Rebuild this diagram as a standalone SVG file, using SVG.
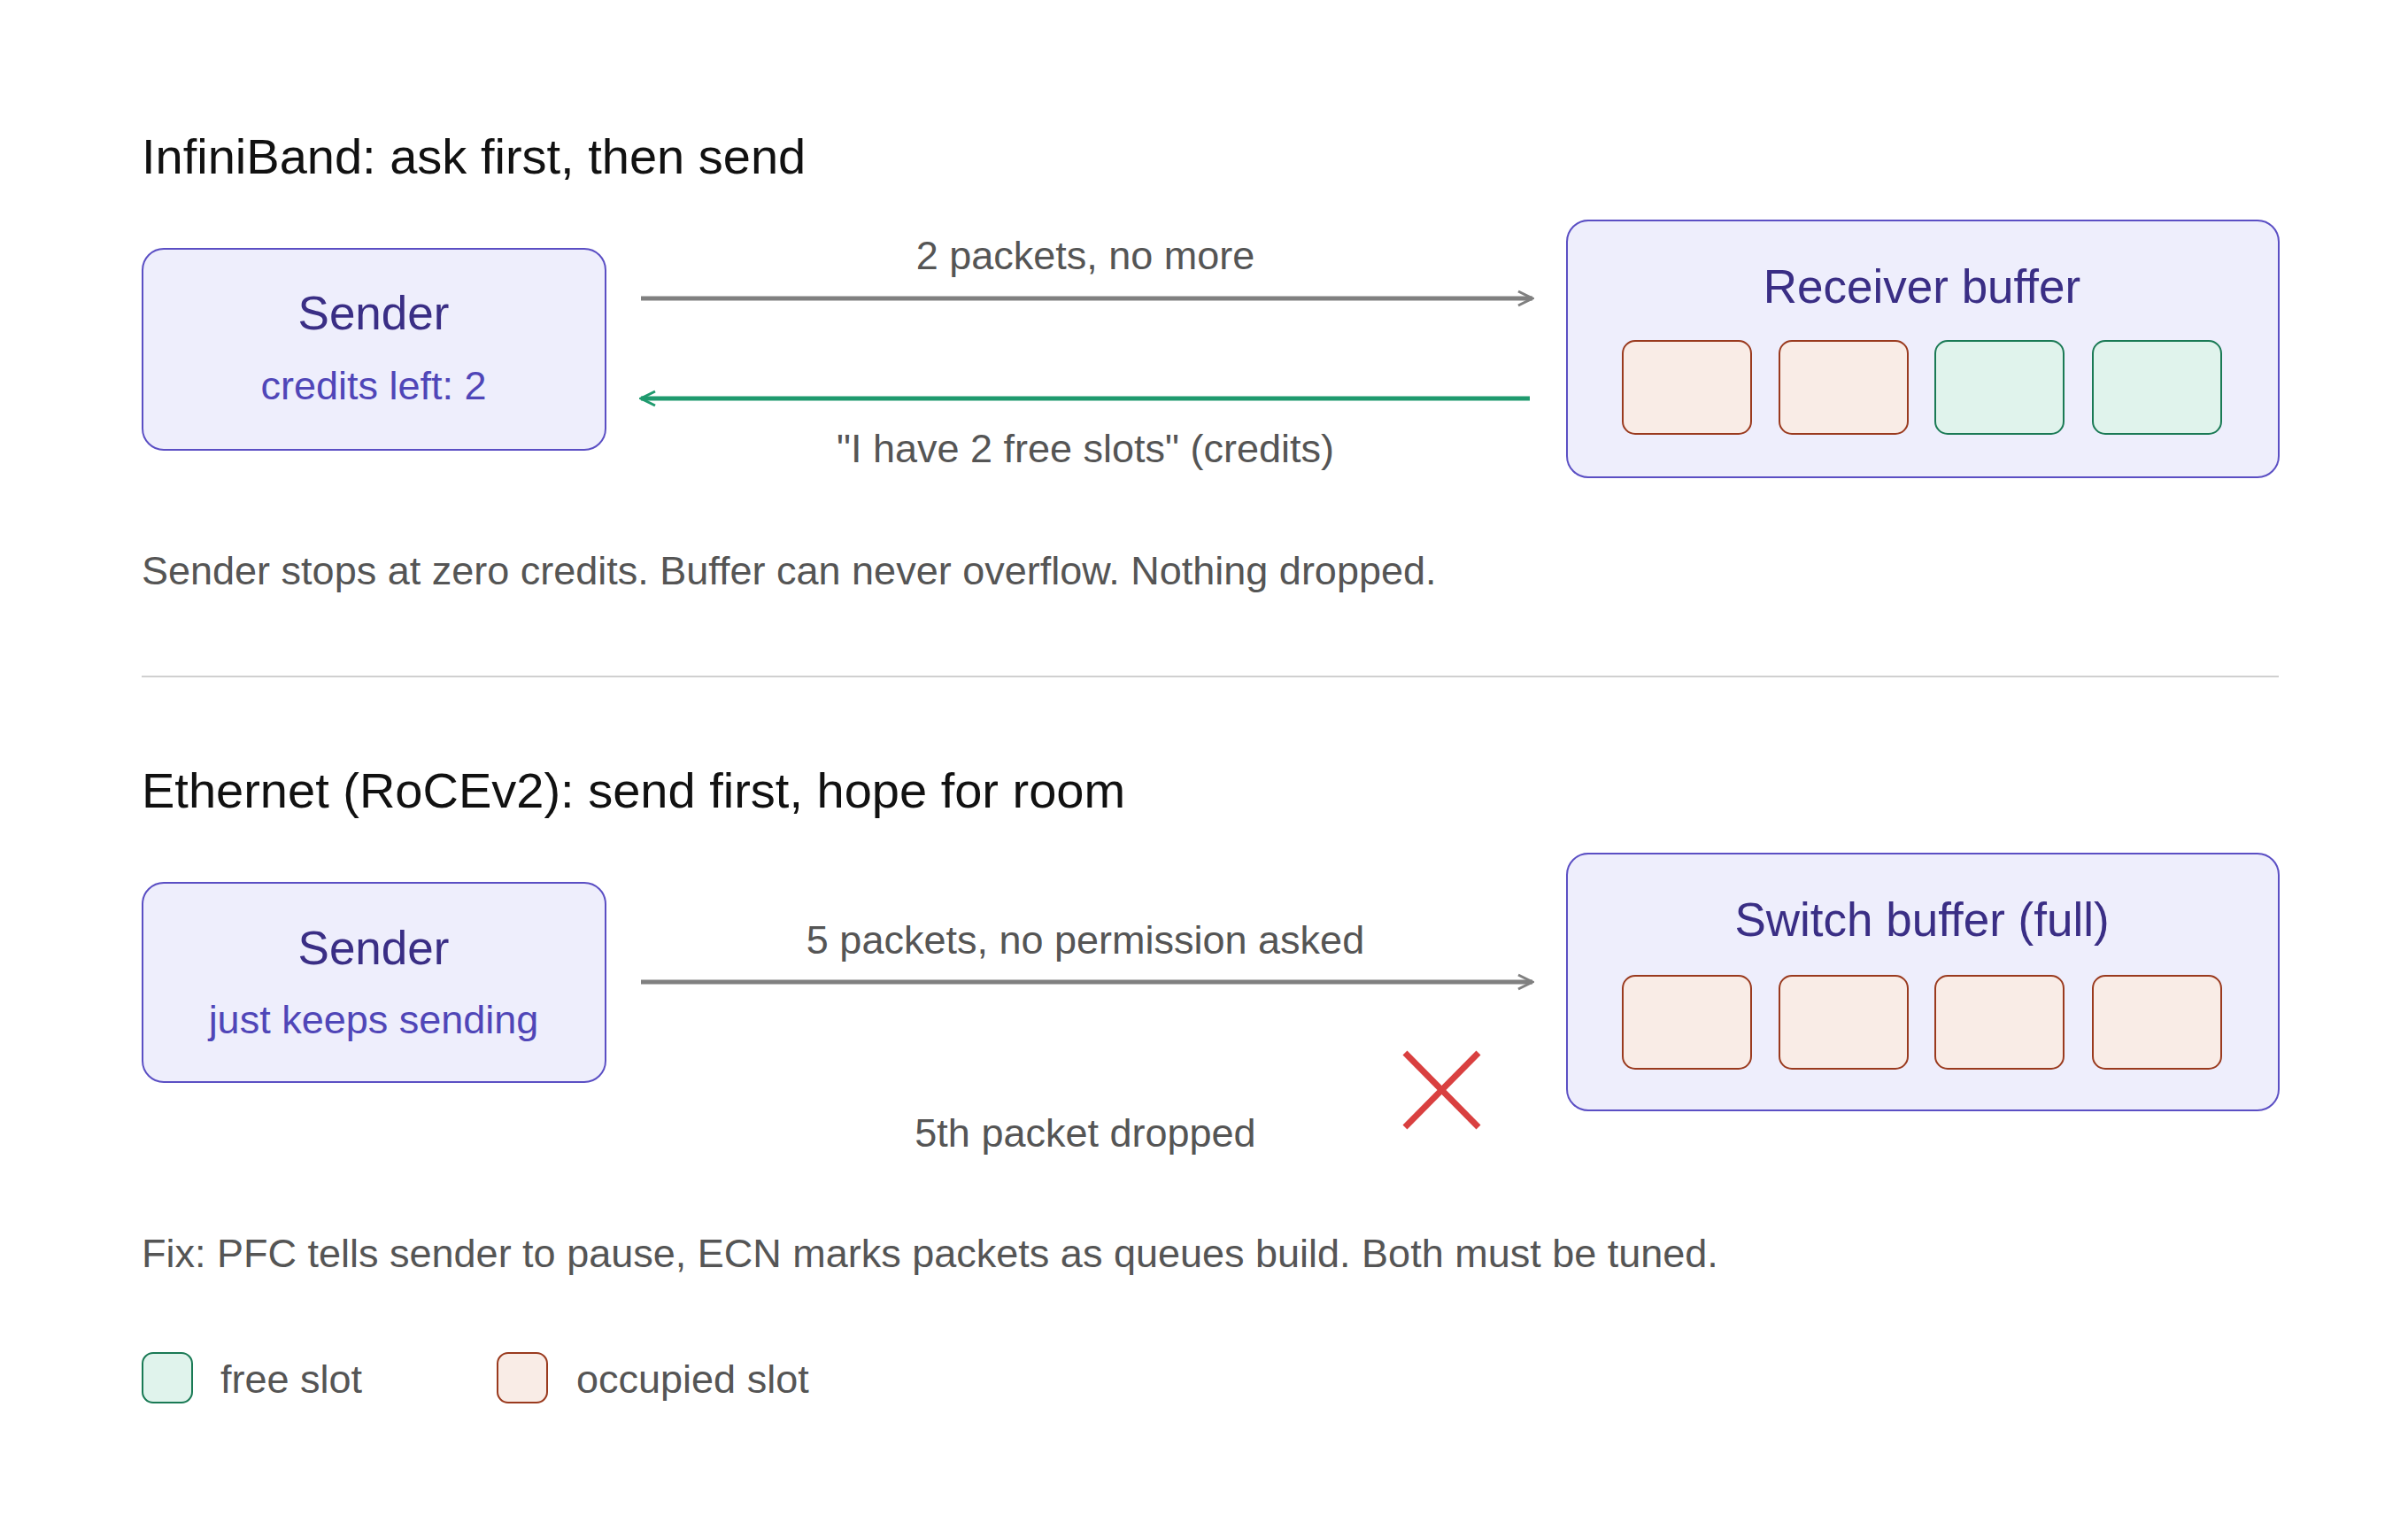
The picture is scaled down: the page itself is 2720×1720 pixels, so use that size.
<svg xmlns="http://www.w3.org/2000/svg" width="2720" height="1720" viewBox="0 0 2720 1720">
<style>
text{font-family:"Liberation Sans",Arial,sans-serif}
.h{font-size:56px;fill:#111}
.t{font-size:45px;fill:#555}
.nt{font-size:53px;fill:#3a2e85;text-anchor:middle}
.ns{font-size:45px;fill:#5046b8;text-anchor:middle}
.box{fill:#eeeefc;stroke:#5b4fc4;stroke-width:2}
.occ{fill:#f9ece6;stroke:#9a3a1e;stroke-width:2}
.free{fill:#e0f3ec;stroke:#1a7a55;stroke-width:2}
.c{text-anchor:middle}
</style>
<defs>
<marker id="ag" viewBox="0 0 20 20" refX="18" refY="10" markerWidth="20" markerHeight="20" markerUnits="userSpaceOnUse" orient="auto"><path d="M2,2 L18,10 L2,18" fill="none" stroke="#808080" stroke-width="3"/></marker>
<marker id="agr" viewBox="0 0 20 20" refX="18" refY="10" markerWidth="20" markerHeight="20" markerUnits="userSpaceOnUse" orient="auto"><path d="M2,2 L18,10 L2,18" fill="none" stroke="#1f9a6e" stroke-width="3"/></marker>
</defs>
<rect width="2720" height="1720" fill="#fff"/>
<text class="h" x="160" y="196">InfiniBand: ask first, then send</text>
<g id="sender1"><rect class="box" x="161" y="281" width="523" height="227" rx="24"/><text class="nt" x="422" y="372">Sender</text><text class="ns" x="422" y="451">credits left: 2</text></g>
<g id="receiver"><rect class="box" x="1770" y="249" width="804" height="290" rx="24"/><text class="nt" x="2171" y="342">Receiver buffer</text>
<rect class="occ" x="1833" y="385" width="145" height="105" rx="14"/><rect class="occ" x="2010" y="385" width="145" height="105" rx="14"/><rect class="free" x="2186" y="385" width="145" height="105" rx="14"/><rect class="free" x="2364" y="385" width="145" height="105" rx="14"/></g>
<g id="connectors">
<line x1="724" y1="337" x2="1731" y2="337" stroke="#808080" stroke-width="5" marker-end="url(#ag)"/>
<line x1="1728" y1="450" x2="724" y2="450" stroke="#1f9a6e" stroke-width="5" marker-end="url(#agr)"/>
<line x1="724" y1="1109" x2="1731" y2="1109" stroke="#808080" stroke-width="5" marker-end="url(#ag)"/>
</g>
<text class="t c" x="1226" y="304">2 packets, no more</text>
<text class="t c" x="1226" y="522">"I have 2 free slots" (credits)</text>
<text class="t" x="160" y="660">Sender stops at zero credits. Buffer can never overflow. Nothing dropped.</text>
<line x1="160" y1="764" x2="2574" y2="764" stroke="#d0d0d0" stroke-width="2"/>
<text class="h" x="160" y="912">Ethernet (RoCEv2): send first, hope for room</text>
<g id="sender2"><rect class="box" x="161" y="997" width="523" height="225" rx="24"/><text class="nt" x="422" y="1089">Sender</text><text class="ns" x="422" y="1167">just keeps sending</text></g>
<g id="switch"><rect class="box" x="1770" y="964" width="804" height="290" rx="24"/><text class="nt" x="2171" y="1057">Switch buffer (full)</text>
<rect class="occ" x="1833" y="1102" width="145" height="105" rx="14"/><rect class="occ" x="2010" y="1102" width="145" height="105" rx="14"/><rect class="occ" x="2186" y="1102" width="145" height="105" rx="14"/><rect class="occ" x="2364" y="1102" width="145" height="105" rx="14"/></g>
<text class="t c" x="1226" y="1077">5 packets, no permission asked</text>
<g id="drop" stroke="#d94040" stroke-width="7"><line x1="1587" y1="1189" x2="1670" y2="1273"/><line x1="1670" y1="1189" x2="1587" y2="1273"/></g>
<text class="t c" x="1226" y="1295">5th packet dropped</text>
<text class="t" x="160" y="1431">Fix: PFC tells sender to pause, ECN marks packets as queues build. Both must be tuned.</text>
<g id="legend"><rect class="free" x="161" y="1528" width="56" height="56" rx="12"/><text class="t" x="249" y="1573">free slot</text>
<rect class="occ" x="562" y="1528" width="56" height="56" rx="12"/><text class="t" x="651" y="1573">occupied slot</text></g>
</svg>
